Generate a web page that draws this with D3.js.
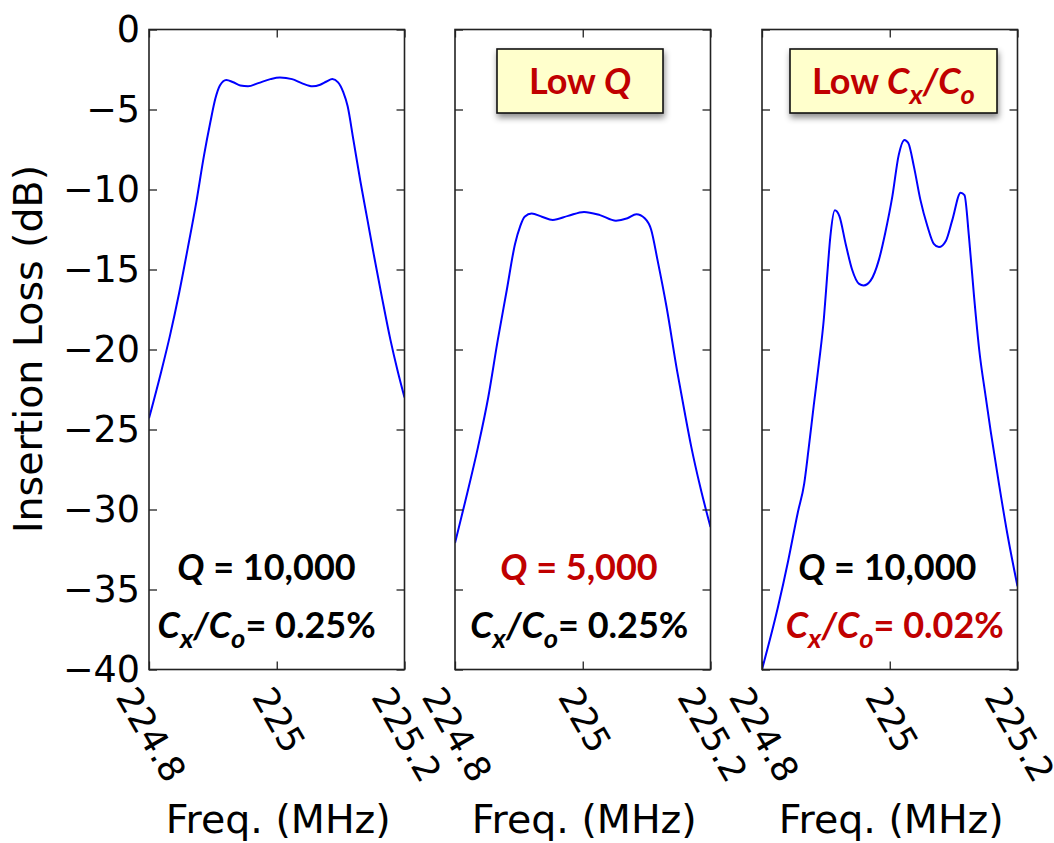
<!DOCTYPE html>
<html>
<head>
<meta charset="utf-8">
<script src="https://cdn.jsdelivr.net/npm/d3@7"></script>
<style>
body { margin: 0; background: #fff; }
text { font-family: "DejaVu Sans", sans-serif; }
.note { font-family: Lato, "Open Sans", sans-serif; font-weight: bold; }
</style>
</head>
<body>
<div id="chart"></div>
<script>
// ---- data ----
// panel 1: Q = 10,000, Cx/Co = 0.25%
var freq1 = [224.800, 224.819, 224.833, 224.847, 224.861, 224.874, 224.886, 224.896, 224.904, 224.911,
             224.921, 224.932, 224.943, 224.955, 224.971, 224.990, 225.005, 225.024, 225.039, 225.056,
             225.068, 225.078, 225.087, 225.096, 225.104, 225.111, 225.120, 225.131, 225.142, 225.153,
             225.164, 225.178, 225.189, 225.200];
var loss1 = [-24.3, -21.4, -19.1, -16.5, -13.6, -10.8, -7.9, -5.8, -4.3, -3.5,
             -3.15, -3.3, -3.5, -3.55, -3.35, -3.1, -3.0, -3.1, -3.35, -3.55,
             -3.45, -3.25, -3.1, -3.3, -3.9, -4.8, -6.9, -9.5, -11.9, -14.3,
             -16.6, -19.4, -21.3, -23.0];

// panel 2: Q = 5,000
var freq2 = [224.800, 224.816, 224.836, 224.852, 224.867, 224.881, 224.894, 224.902, 224.909, 224.920,
             224.936, 224.953, 224.977, 225.002, 225.027, 225.052, 225.070, 225.084, 225.097, 225.107,
             225.117, 225.131, 225.148, 225.159, 225.170, 225.184, 225.200];
var loss2 = [-32.1, -29.5, -26.1, -23.0, -19.4, -16.3, -13.4, -12.3, -11.7, -11.5,
             -11.7, -11.9, -11.65, -11.4, -11.6, -11.95, -11.8, -11.55, -11.8, -12.5,
             -14.4, -17.3, -21.4, -23.8, -26.1, -28.6, -31.1];

// panel 3: Cx/Co = 0.02%
var freq3 = [224.800, 224.825, 224.841, 224.856, 224.866, 224.873, 224.881, 224.889, 224.897, 224.902,
             224.907, 224.914, 224.921, 224.931, 224.941, 224.952, 224.959, 224.970, 224.983, 224.993,
             225.004, 225.014, 225.023, 225.029, 225.038, 225.048, 225.059, 225.069, 225.077, 225.088,
             225.098, 225.111, 225.117, 225.124, 225.132, 225.140, 225.150, 225.158, 225.171, 225.184,
             225.200];
var loss3 = [-40.0, -36.1, -33.2, -30.2, -28.4, -26.2, -23.5, -20.9, -18.0, -15.4,
             -12.95, -11.3, -11.65, -13.4, -15.0, -15.9, -16.0, -15.7, -14.4, -12.7,
             -10.45, -7.85, -6.9, -7.1, -8.6, -10.65, -12.3, -13.4, -13.6, -13.2,
             -11.9, -10.2, -10.35, -12.95, -16.7, -20.0, -22.9, -25.1, -28.4, -31.5,
             -34.8];

var yTicks = [0, -5, -10, -15, -20, -25, -30, -35, -40];
var yTickLabels = ['0', '\u22125', '\u221210', '\u221215', '\u221220', '\u221225', '\u221230', '\u221235', '\u221240'];
var xTicks = [224.8, 225.0, 225.2];
var xTickLabels = ['224.8', '225', '225.2'];

var yTitle = 'Insertion Loss (dB)';
var xTitle = 'Freq. (MHz)';

// annotation lines per panel: Q value and Cx/Co value, red where the panel changes it
var notesQ = ['10,000', '5,000', '10,000'];
var notesC = ['0.25%', '0.25%', '0.02%'];
var notesQRed = [false, true, false];
var notesCRed = [false, false, true];
var boxTitles = [null, 'Q', 'C'];

// ---- layout ----
var panelLeft = [149, 455, 762],
    panelW = 255.5,
    panelTop = 29.5,
    panelH = 640;
var red = '#C00000';

var svg = d3.select('#chart').append('svg')
    .attr('width', 1054)
    .attr('height', 843);

var defs = svg.append('defs');
var f = defs.append('filter').attr('id', 'shadow')
    .attr('x', '-20%').attr('y', '-30%').attr('width', '140%').attr('height', '170%');
f.append('feDropShadow')
    .attr('dx', 1).attr('dy', 4).attr('stdDeviation', 3)
    .attr('flood-color', '#000').attr('flood-opacity', 0.45);

var x = d3.scaleLinear().domain([224.8, 225.2]).range([0, panelW]);
var y = d3.scaleLinear().domain([0, -40]).range([panelTop, panelTop + panelH]);

var series = [
    {freq: freq1, loss: loss1},
    {freq: freq2, loss: loss2},
    {freq: freq3, loss: loss3}
];

var line = d3.line()
    .x(function(d){ return x(d[0]); })
    .y(function(d){ return y(d[1]); })
    .curve(d3.curveMonotoneX);

// rich text helper: parts = [{t, i, sub}]
function rich(g, cx, base, parts, color, size) {
    var t = g.append('text')
        .attr('class', 'note')
        .attr('x', cx)
        .attr('y', base)
        .attr('text-anchor', 'middle')
        .attr('font-size', size)
        .attr('fill', color);
    var shifted = false;
    parts.forEach(function(p){
        var s = t.append('tspan').text(p.t);
        if (p.i) s.attr('font-style', 'italic');
        if (p.sub) {
            s.attr('font-size', size * 0.76).attr('dy', shifted ? 0 : 10);
            shifted = true;
        } else if (shifted) {
            s.attr('dy', -10);
            shifted = false;
        }
    });
    return t;
}

function cParts(value) {
    return [{t: 'C', i: true}, {t: 'x', i: true, sub: true}, {t: '/', i: true},
            {t: 'C', i: true}, {t: 'o', i: true, sub: true}, {t: '= ' + value}];
}

series.forEach(function(s, i){
    var g = svg.append('g').attr('transform', 'translate(' + panelLeft[i] + ',0)');

    defs.append('clipPath').attr('id', 'clip' + i)
        .append('rect')
        .attr('x', 0).attr('y', panelTop)
        .attr('width', panelW).attr('height', panelH);

    // curve
    var pts = s.freq.map(function(fq, k){ return [fq, s.loss[k]]; });
    g.append('path')
        .datum(pts)
        .attr('d', line)
        .attr('clip-path', 'url(#clip' + i + ')')
        .attr('fill', 'none')
        .attr('stroke', '#0000FF')
        .attr('stroke-width', 2);

    // ticks pointing inward on all four sides
    var axes = [
        {a: d3.axisLeft(y), t: 'translate(0,0)'},
        {a: d3.axisRight(y), t: 'translate(' + panelW + ',0)'},
        {a: d3.axisTop(x), t: 'translate(0,' + panelTop + ')'},
        {a: d3.axisBottom(x), t: 'translate(0,' + (panelTop + panelH) + ')'}
    ];
    axes.forEach(function(ax, k){
        var a = ax.a.tickSizeInner(-8).tickSizeOuter(0).tickFormat('');
        if (k < 2) a.tickValues(yTicks); else a.tickValues(xTicks);
        var ag = g.append('g').attr('transform', ax.t).call(a);
        ag.select('.domain').remove();
        ag.selectAll('line').attr('stroke', '#222').attr('stroke-width', 1.3);
    });

    // frame
    g.append('rect')
        .attr('x', 0).attr('y', panelTop)
        .attr('width', panelW).attr('height', panelH)
        .attr('fill', 'none')
        .attr('stroke', '#222')
        .attr('stroke-width', 1.6);

    // y tick labels only on the first panel
    if (i === 0) {
        g.selectAll('.ylab')
            .data(yTicks)
            .enter()
            .append('text')
            .attr('class', 'ylab')
            .attr('x', -9)
            .attr('y', function(d){ return y(d); })
            .attr('dy', '0.33em')
            .attr('text-anchor', 'end')
            .attr('font-size', 36.5)
            .attr('fill', '#000')
            .text(function(d, k){ return yTickLabels[k]; });
    }

    // rotated x tick labels
    xTicks.forEach(function(tv, k){
        var lab = g.append('text')
            .attr('font-size', 35.5)
            .attr('text-anchor', 'middle')
            .attr('dy', '0.36em')
            .attr('fill', '#000')
            .text(xTickLabels[k]);
        var w = lab.node().getComputedTextLength();
        var h = 35.5 * 0.729;
        var H = w * Math.sin(Math.PI / 3) + h * Math.cos(Math.PI / 3);
        var cx = x(tv) + 2.5, cy = panelTop + panelH + 14.5 + H / 2;
        lab.attr('transform', 'translate(' + cx + ',' + cy + ') rotate(60)');
    });

    // x title
    g.append('text')
        .attr('x', panelW / 2 + 1.5)
        .attr('y', 833)
        .attr('text-anchor', 'middle')
        .attr('font-size', 39.5)
        .attr('fill', '#000')
        .text(xTitle);
});

// y title
svg.append('text')
    .attr('transform', 'translate(42,349) rotate(-90)')
    .attr('text-anchor', 'middle')
    .attr('font-size', 39.5)
    .attr('fill', '#000')
    .text(yTitle);

// in-panel annotations
var noteQx = [117.5, 124, 125.3],
    noteCx = [117.7, 124.3, 132.8];
notesQ.forEach(function(v, i){
    var g = svg.append('g').attr('transform', 'translate(' + panelLeft[i] + ',0)');
    rich(g, noteQx[i], 580, [{t: 'Q', i: true}, {t: ' = ' + v}], notesQRed[i] ? red : '#000', 36);
    rich(g, noteCx[i], 638, cParts(notesC[i]), notesCRed[i] ? red : '#000', 36);
});

// yellow title boxes
var boxX = [null, 42, 28], boxW = [null, 166, 207];
boxTitles.forEach(function(b, i){
    if (!b) return;
    var g = svg.append('g').attr('transform', 'translate(' + panelLeft[i] + ',0)');
    g.append('rect')
        .attr('x', boxX[i]).attr('y', 49)
        .attr('width', boxW[i]).attr('height', 64)
        .attr('fill', '#FFFFCC')
        .attr('stroke', '#111')
        .attr('stroke-width', 1.6)
        .attr('filter', 'url(#shadow)');
    var parts = b === 'Q'
        ? [{t: 'Low '}, {t: 'Q', i: true}]
        : [{t: 'Low '}].concat(cParts('').slice(0, 5));
    rich(g, boxX[i] + boxW[i] / 2, 93.5, parts, red, 36);
});
</script>
</body>
</html>
